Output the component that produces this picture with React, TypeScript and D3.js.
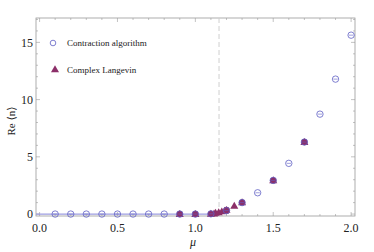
import * as d3 from "d3";

const contrMu = [0.1, 0.2, 0.3, 0.4, 0.5, 0.6, 0.7, 0.8, 0.9, 1.0, 1.1, 1.2, 1.3, 1.4, 1.5, 1.6, 1.7, 1.8, 1.9, 2.0];
const contrN = [0, 0, 0, 0, 0, 0, 0, 0, 0, 0, 0.02, 0.3, 1.0, 1.86, 2.94, 4.43, 6.29, 8.73, 11.79, 15.63];

const clMu = [0.9, 1.0, 1.1, 1.12, 1.13, 1.15, 1.17, 1.19, 1.2, 1.25, 1.3, 1.5, 1.7];
const clN = [0, 0, 0.02, 0.04, 0.1, 0.15, 0.22, 0.28, 0.35, 0.72, 1.02, 2.94, 6.29];

const xTicks = [0, 0.5, 1.0, 1.5, 2.0];
const yTicks = [0, 5, 10, 15];
const plateauMu = [-0.023, 1.12];
const criticalMu = 1.152;

const W = 374;
const H = 252;
const left = 36;
const right = 355;
const top = 18;
const bottom = 216;

const BLUE = "#5f5fc4";
const PURPLE = "#8c2f69";
const AXIS = "#9a9a9a";
const SERIF = "'Liberation Serif', 'DejaVu Serif', serif";

export default function App() {
  const x = d3.scaleLinear().domain([-0.023, 2.025]).range([left, right]);
  const y = d3.scaleLinear().domain([-0.17, 17.13]).range([bottom, top]);

  const xMinor = d3.range(0, 2.0001, 0.1);
  const yMinor = d3.range(0, 17.001, 1);
  const tri = d3.symbol().type(d3.symbolTriangle).size(28)();

  return (
    <svg width={W} height={H} style={{ position: "absolute", left: 0, top: 0, background: "#fff" }}>
      {/* frame */}
      <rect x={left} y={top} width={right - left} height={bottom - top} fill="none" stroke={AXIS} strokeWidth={0.8} />

      {/* ticks on all four sides */}
      <g stroke={AXIS} strokeWidth={0.6}>
        {xMinor.map((t, i) => {
          const len = xTicks.some(m => Math.abs(m - t) < 1e-6) ? 4 : 2;
          return (
            <g key={"x" + i}>
              <line x1={x(t)} x2={x(t)} y1={bottom} y2={bottom - len} />
              <line x1={x(t)} x2={x(t)} y1={top} y2={top + len} />
            </g>
          );
        })}
        {yMinor.map((t, i) => {
          const len = yTicks.includes(t) ? 4 : 2;
          return (
            <g key={"y" + i}>
              <line x1={left} x2={left + len} y1={y(t)} y2={y(t)} />
              <line x1={right} x2={right - len} y1={y(t)} y2={y(t)} />
            </g>
          );
        })}
      </g>

      {/* tick labels */}
      <g fontFamily={SERIF} fontSize={12} fill="#222">
        {xTicks.map(t => (
          <text key={t} x={x(t)} y={bottom + 16} textAnchor="middle">{d3.format(".1f")(t)}</text>
        ))}
        {yTicks.map(t => (
          <text key={t} x={left - 3} y={y(t)} dy="0.35em" textAnchor="end">{t}</text>
        ))}
      </g>

      {/* axis titles */}
      <text x={193} y={246} fontFamily={SERIF} fontSize={12} fontStyle="italic" textAnchor="middle" fill="#222">μ</text>
      <text transform={`translate(15,${(top + bottom) / 2 + 4}) rotate(-90)`} fontFamily={SERIF} fontSize={11} textAnchor="middle" fill="#222">Re ⟨n⟩</text>

      {/* critical mu */}
      <line x1={x(criticalMu)} x2={x(criticalMu)} y1={top} y2={bottom} stroke="#cfcfcf" strokeWidth={1} strokeDasharray="5,3" />

      {/* zero plateau */}
      <line x1={x(plateauMu[0])} x2={x(plateauMu[1])} y1={y(0)} y2={y(0)} stroke="#9d9de0" strokeWidth={1.2} />

      {/* complex Langevin */}
      <g fill={PURPLE}>
        {clMu.map((m, i) => (
          <path key={i} d={tri ?? ""} transform={`translate(${x(m)},${y(clN[i]) + 0.5})`} />
        ))}
        {clMu.map((m, i) =>
          contrMu.includes(m) ? <circle key={"c" + i} cx={x(m)} cy={y(clN[i])} r={3.2} /> : null
        )}
      </g>

      {/* contraction algorithm */}
      <g fill="none" stroke={BLUE} strokeWidth={0.8}>
        {contrMu.map((m, i) => (
          <g key={i}>
            <circle cx={x(m)} cy={y(contrN[i])} r={3.2} />
            <line x1={x(m) - 2.2} x2={x(m) + 2.2} y1={y(contrN[i])} y2={y(contrN[i])} strokeWidth={0.6} />
          </g>
        ))}
      </g>

      {/* legend */}
      <g fontFamily={SERIF} fontSize={9} fill="#222">
        <circle cx={53} cy={43} r={2.8} fill="none" stroke={BLUE} strokeWidth={0.8} />
        <text x={67} y={46}>Contraction algorithm</text>
        <path d={tri ?? ""} transform="translate(55,70)" fill={PURPLE} />
        <text x={67} y={73}>Complex Langevin</text>
      </g>
    </svg>
  );
}
